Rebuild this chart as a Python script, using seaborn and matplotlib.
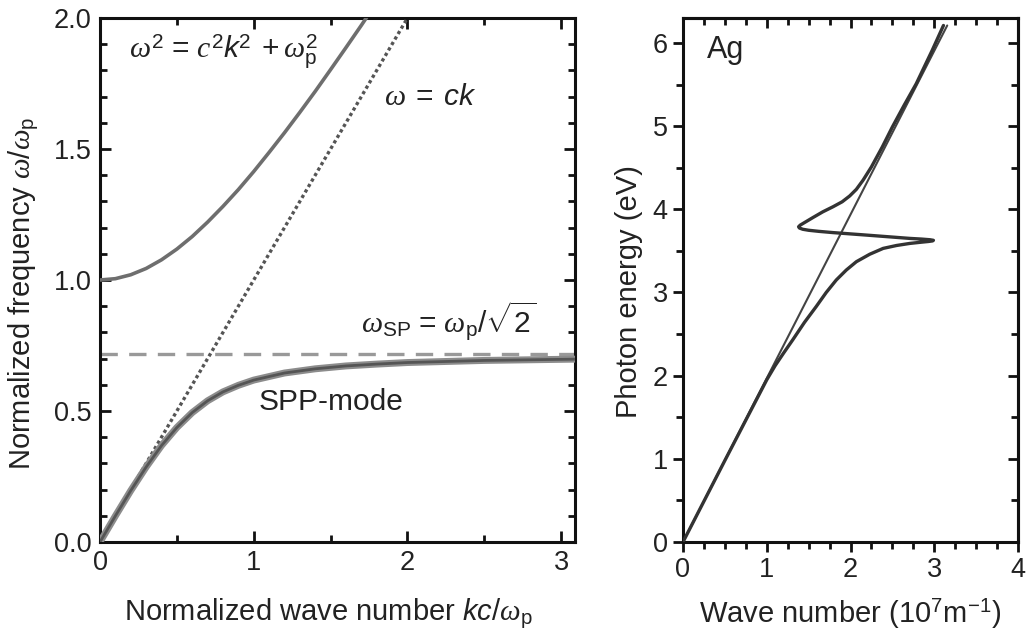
import numpy as np
import pandas as pd
import matplotlib
matplotlib.use("Agg")
import matplotlib.pyplot as plt
from matplotlib.ticker import MultipleLocator
import seaborn as sns

# ---------------- data ----------------
# Left panel: normalized dispersion relations
k_bulk = [0.0, 0.1, 0.2, 0.3, 0.4, 0.5, 0.6, 0.7, 0.8, 0.9, 1.0, 1.1, 1.2,
          1.3, 1.4, 1.5, 1.6, 1.7, 1.75]
w_bulk = [1.0, 1.005, 1.02, 1.044, 1.077, 1.118, 1.166, 1.221, 1.281, 1.345,
          1.414, 1.487, 1.562, 1.640, 1.720, 1.803, 1.887, 1.972, 2.016]

k_spp = [0.0, 0.1, 0.2, 0.3, 0.4, 0.5, 0.6, 0.7, 0.8, 0.9, 1.0, 1.2, 1.4,
         1.6, 1.8, 2.0, 2.5, 3.1]
w_spp = [0.0, 0.0995, 0.196, 0.286, 0.368, 0.437, 0.494, 0.539, 0.573, 0.598,
         0.618, 0.645, 0.661, 0.672, 0.679, 0.685, 0.693, 0.698]

k_light = [0.0, 2.0]
w_light = [0.0, 2.0]

w_sp_level = 0.717
k_sp_range = [0.0, 3.1]

# Right panel: Ag
k_ag_light = [0.0, 3.155]
e_ag_light = [0.0, 6.21]

k_ag = [0.0, 0.5, 1.0, 1.1, 1.2, 1.31, 1.45, 1.59, 1.71, 1.83, 1.95, 2.07,
        2.23, 2.39, 2.55, 2.71, 2.85, 2.93, 2.98, 2.99, 2.95, 2.85, 2.71,
        2.45, 2.19, 1.99, 1.79, 1.62, 1.50, 1.43, 1.39, 1.38, 1.40, 1.45,
        1.55, 1.67, 1.79, 1.90, 1.99, 2.07, 2.15, 2.25, 2.38, 2.50, 2.64,
        2.785, 2.975, 3.11]
e_ag = [0.0, 0.98, 1.95, 2.12, 2.27, 2.43, 2.64, 2.83, 3.00, 3.15, 3.27,
        3.37, 3.46, 3.53, 3.565, 3.59, 3.605, 3.613, 3.62, 3.627, 3.634,
        3.642, 3.65, 3.67, 3.69, 3.705, 3.72, 3.735, 3.748, 3.76, 3.775,
        3.79, 3.81, 3.84, 3.90, 3.97, 4.03, 4.09, 4.16, 4.24, 4.35, 4.51,
        4.75, 4.99, 5.25, 5.51, 5.91, 6.21]

left_xticks = [0, 1, 2, 3]
left_yticks = [0.0, 0.5, 1.0, 1.5, 2.0]
right_xticks = [0, 1, 2, 3, 4]
right_yticks = [0, 1, 2, 3, 4, 5, 6]

# ---------------- style ----------------
sns.set_theme(style="ticks")
plt.rcParams["font.family"] = ["Liberation Sans", "DejaVu Sans"]
plt.rcParams["mathtext.fontset"] = "custom"
plt.rcParams["mathtext.rm"] = "Liberation Sans"
plt.rcParams["mathtext.it"] = "Liberation Serif:italic"
plt.rcParams["mathtext.sf"] = "Liberation Sans:italic"
plt.rcParams["axes.linewidth"] = 2.2
plt.rcParams["axes.edgecolor"] = "#111111"
plt.rcParams["text.color"] = "#222222"
plt.rcParams["axes.labelcolor"] = "#222222"
plt.rcParams["xtick.color"] = "#111111"
plt.rcParams["ytick.color"] = "#111111"
plt.rcParams["xtick.labelcolor"] = "#222222"
plt.rcParams["ytick.labelcolor"] = "#222222"

FS_TICK = 19.5
FS_LAB = 21
FS_ANN = 21.5

fig = plt.figure(figsize=(10.27, 6.36), dpi=100)
axL = fig.add_axes([100 / 1027, 1 - 542 / 636, 475 / 1027, 524 / 636])
axR = fig.add_axes([683 / 1027, 1 - 542 / 636, 335 / 1027, 524 / 636])

# ---------------- left panel ----------------
df_bulk = pd.DataFrame({"k": k_bulk, "w": w_bulk})
df_spp = pd.DataFrame({"k": k_spp, "w": w_spp})
df_light = pd.DataFrame({"k": k_light, "w": w_light})
df_sp = pd.DataFrame({"k": k_sp_range, "w": [w_sp_level, w_sp_level]})

sns.lineplot(data=df_sp, x="k", y="w", ax=axL, color="#999999", lw=2.4,
             zorder=2).lines[-1].set_dashes([5.2, 3.4])
sns.lineplot(data=df_light, x="k", y="w", ax=axL, color="#555555", lw=2.4,
             zorder=3).lines[-1].set_dashes([1, 0.9])
sns.lineplot(data=df_bulk, x="k", y="w", ax=axL, color="#6e6e6e", lw=2.6,
             zorder=4)
sns.lineplot(data=df_spp, x="k", y="w", ax=axL, color="#8c8c8c", lw=5.0,
             zorder=4)
sns.lineplot(data=df_spp, x="k", y="w", ax=axL, color="#555555", lw=2.0,
             zorder=5)

axL.set_xlim(0, 3.09)
axL.set_ylim(0, 2.0)
axL.set_xticks(left_xticks)
axL.set_yticks(left_yticks)
axL.set_xticklabels([str(t) for t in left_xticks])
axL.set_yticklabels([f"{t:.1f}" for t in left_yticks])
axL.xaxis.set_minor_locator(MultipleLocator(0.5))
axL.yaxis.set_minor_locator(MultipleLocator(0.1))
axL.tick_params(which="both", direction="in", top=True, right=True,
                labelsize=FS_TICK, width=2.0)
axL.tick_params(which="major", length=8, pad=6)
axL.tick_params(which="minor", length=5)
axL.set_xlabel(r"Normalized wave number $\mathsf{kc}/\omega_\mathrm{p}$",
               fontsize=FS_LAB, labelpad=13)
axL.set_ylabel(r"Normalized frequency $\omega/\omega_\mathrm{p}$",
               fontsize=FS_LAB, labelpad=8)
axL.xaxis.set_label_coords(0.48, -0.105)
axL.yaxis.set_label_coords(-0.124, 0.475)

axL.text(0.19, 1.87, r"$\omega^2\,=\,c^2\mathsf{k}^2\;+\omega_\mathrm{p}^2$",
         fontsize=FS_ANN, ha="left", va="center")
axL.text(1.85, 1.70, r"$\omega\;=\;\mathsf{ck}$", fontsize=FS_ANN, ha="left",
         va="center")
axL.text(1.70, 0.845, r"$\omega_\mathrm{SP}\,=\,\omega_\mathrm{p}/\sqrt{2}$",
         fontsize=FS_ANN, ha="left", va="center")
axL.text(1.03, 0.535, "SPP-mode", fontsize=FS_ANN, ha="left", va="center")

# ---------------- right panel ----------------
df_agl = pd.DataFrame({"k": k_ag_light, "e": e_ag_light})
df_ag = pd.DataFrame({"k": k_ag, "e": e_ag})
sns.lineplot(data=df_agl, x="k", y="e", ax=axR, color="#444444", lw=1.5,
             zorder=3)
sns.lineplot(data=df_ag, x="k", y="e", ax=axR, color="#333333", lw=2.4,
             sort=False, estimator=None, zorder=4)

axR.set_xlim(0, 4)
axR.set_ylim(0, 6.3)
axR.set_xticks(right_xticks)
axR.set_yticks(right_yticks)
axR.set_xticklabels([str(t) for t in right_xticks])
axR.set_yticklabels([str(t) for t in right_yticks])
axR.xaxis.set_minor_locator(MultipleLocator(0.25))
axR.yaxis.set_minor_locator(MultipleLocator(0.5))
axR.tick_params(which="both", direction="out", top=False, right=False,
                labelsize=FS_TICK, width=2.0)
axR.tick_params(which="major", length=7, pad=4)
axR.tick_params(which="minor", length=5)

secx = axR.secondary_xaxis("top")
secx.set_xticks(right_xticks)
secx.xaxis.set_minor_locator(MultipleLocator(0.25))
secx.tick_params(which="both", direction="in", labeltop=False, width=2.0)
secx.tick_params(which="major", length=7)
secx.tick_params(which="minor", length=5)
secy = axR.secondary_yaxis("right")
secy.set_yticks(right_yticks)
secy.yaxis.set_minor_locator(MultipleLocator(0.5))
secy.tick_params(which="both", direction="in", labelright=False, width=2.0)
secy.tick_params(which="major", length=7)
secy.tick_params(which="minor", length=5)

axR.set_xlabel(r"Wave number (10$^7$m$^{-1}$)", fontsize=FS_LAB, labelpad=10)
axR.set_ylabel("Photon energy (eV)", fontsize=FS_LAB, labelpad=6)
axR.yaxis.set_label_coords(-0.12, 0.478)
axR.text(0.29, 5.91, "Ag", fontsize=22, ha="left", va="center")

for ax in (axL, axR):
    for s in ax.spines.values():
        s.set_visible(True)

fig.savefig("out.png", dpi=100, facecolor="white")
